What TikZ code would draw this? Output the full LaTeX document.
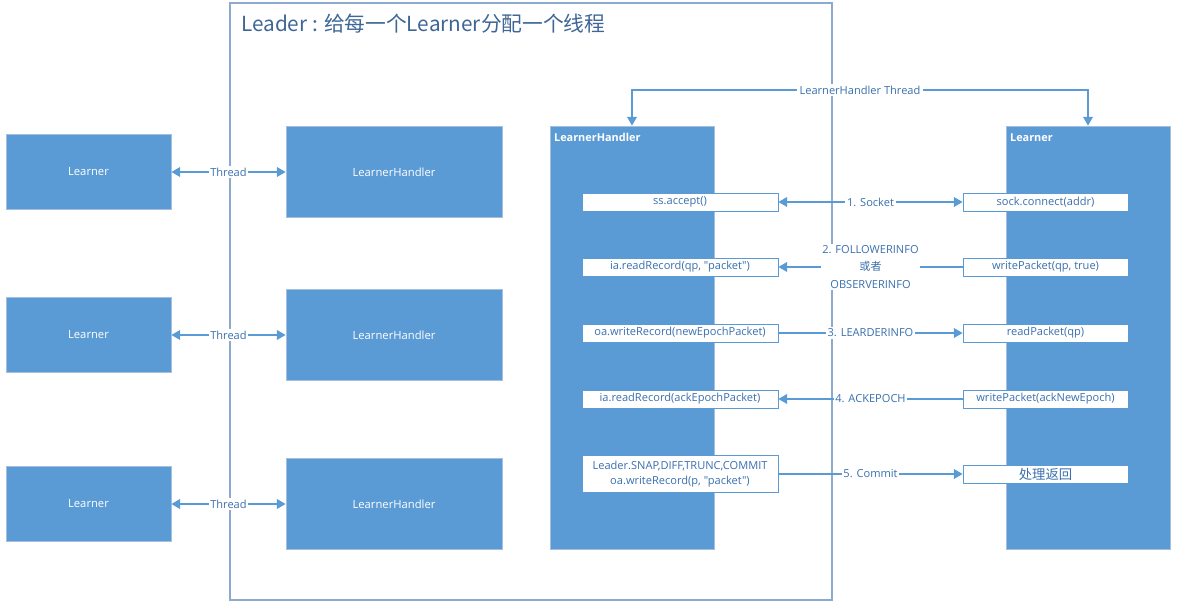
\documentclass[tikz,border=0pt]{standalone}
\usepackage{fontspec}
\setmainfont{Open Sans}[Ligatures=TeXOff]
\newfontfamily\cjk{Noto Sans CJK SC}
\usetikzlibrary{positioning,arrows.meta}
\definecolor{boxblue}{RGB}{91,155,213}
\definecolor{boxedge}{RGB}{165,192,222}
\definecolor{framecol}{RGB}{140,170,205}
\definecolor{txtblue}{RGB}{58,112,175}
\definecolor{titleblue}{RGB}{62,102,150}
\tikzset{
	blockbox/.style={draw=boxedge, fill=boxblue, text=white, inner sep=0pt, font=\fontsize{6.4}{7.5}\selectfont},
	callbox/.style={draw=boxblue, fill=white, text=txtblue, inner sep=0pt, minimum height=0.36cm, align=center, font=\fontsize{6.3}{8.2}\selectfont},
	msg/.style={fill=white, text=txtblue, inner sep=1pt, align=center, font=\fontsize{6.3}{9.7}\selectfont},
	link/.style={draw=boxblue, line width=0.8pt, >={Triangle[length=5pt,width=5.5pt]}},
}

\begin{document}
\begin{tikzpicture}
		%%%%% FRAME %%%%%
		\useasboundingbox (0, 0) rectangle (23.56, 12.18);
		\draw[framecol, line width=0.6pt] (4.6, 0.18) rectangle (16.64, 12.12);
		\node[anchor=west, text=titleblue, font=\cjk\fontsize{11.8}{14}\selectfont] (title) at (4.7, 11.70) {Leader : 给每一个Learner分配一个线程};
		
		%%%%% LEFT SIDE %%%%%
		\node[blockbox, minimum width=3.3cm, minimum height=1.5cm] (ln1) at (1.77, 8.74) {Learner};
		\node[blockbox, minimum width=4.32cm, minimum height=1.82cm] (lh1) at (7.88, 8.74) {LearnerHandler};
		\draw[link, <->] (ln1) -- node[msg] {Thread} (lh1);
		
		\node[blockbox, minimum width=3.3cm, minimum height=1.5cm] (ln2) at (1.77, 5.48) {Learner};
		\node[blockbox, minimum width=4.32cm, minimum height=1.82cm] (lh2) at (7.88, 5.48) {LearnerHandler};
		\draw[link, <->] (ln2) -- node[msg] {Thread} (lh2);
		
		\node[blockbox, minimum width=3.3cm, minimum height=1.5cm] (ln3) at (1.77, 2.10) {Learner};
		\node[blockbox, minimum width=4.32cm, minimum height=1.82cm] (lh3) at (7.88, 2.10) {LearnerHandler};
		\draw[link, <->] (ln3) -- node[msg] {Thread} (lh3);
		
		%%%%% HANDLER AND LEARNER %%%%%
		\node[blockbox, minimum width=3.28cm, minimum height=8.46cm] (lhbig) at (12.64, 5.43) {};
		\node[anchor=north west, inner sep=1pt, text=white, font=\fontsize{6.2}{7}\selectfont\bfseries] (lhname) at (11.04, 9.55) {LearnerHandler};
		\node[blockbox, minimum width=3.28cm, minimum height=8.46cm] (lnbig) at (21.76, 5.43) {};
		\node[anchor=north west, inner sep=1pt, text=white, font=\fontsize{6.2}{7}\selectfont\bfseries] (lnname) at (20.16, 9.55) {Learner};
		
		\node[msg] (thr) at (17.2, 10.38) {LearnerHandler Thread};
		\draw[link, ->] (thr.west) -| (lhbig);
		\draw[link, ->] (thr.east) -| (lnbig);
		
		%%%%% CALLS %%%%%
		\node[callbox, minimum width=3.92cm] (accept) at (13.6, 8.14) {ss.accept()};
		\node[callbox, minimum width=3.92cm] (readrec) at (13.6, 6.84) {ia.readRecord(qp, "packet")};
		\node[callbox, minimum width=3.92cm] (writerec) at (13.6, 5.52) {oa.writeRecord(newEpochPacket)};
		\node[callbox, minimum width=3.92cm] (readack) at (13.6, 4.20) {ia.readRecord(ackEpochPacket)};
		\node[callbox, minimum width=3.92cm, minimum height=0.74cm] (commit) at (13.6, 2.70) {Leader.SNAP,DIFF,TRUNC,COMMIT\\oa.writeRecord(p, "packet")};
		
		\node[callbox, minimum width=3.3cm] (connect) at (20.91, 8.14) {sock.connect(addr)};
		\node[callbox, minimum width=3.3cm] (writepk) at (20.91, 6.84) {writePacket(qp, true)};
		\node[callbox, minimum width=3.3cm] (readpk) at (20.91, 5.52) {readPacket(qp)};
		\node[callbox, minimum width=3.3cm] (writeack) at (20.91, 4.20) {writePacket(ackNewEpoch)};
		\node[callbox, minimum width=3.3cm, font=\cjk\fontsize{7.6}{8.2}\selectfont] (handle) at (20.91, 2.70) {处理返回};
		
		\draw[link, <->] (accept) -- node[msg] {1. Socket} (connect);
		\draw[link, ->] (writepk) -- node[msg] {2. FOLLOWERINFO\\{\cjk 或者}\\OBSERVERINFO} (readrec);
		\draw[link, ->] (writerec) -- node[msg] {3. LEARDERINFO} (readpk);
		\draw[link, ->] (writeack) -- node[msg] {4. ACKEPOCH} (readack);
		\draw[link, ->] (commit) -- node[msg] {5. Commit} (handle);
		%%%%% END %%%%%
\end{tikzpicture}
\end{document}
